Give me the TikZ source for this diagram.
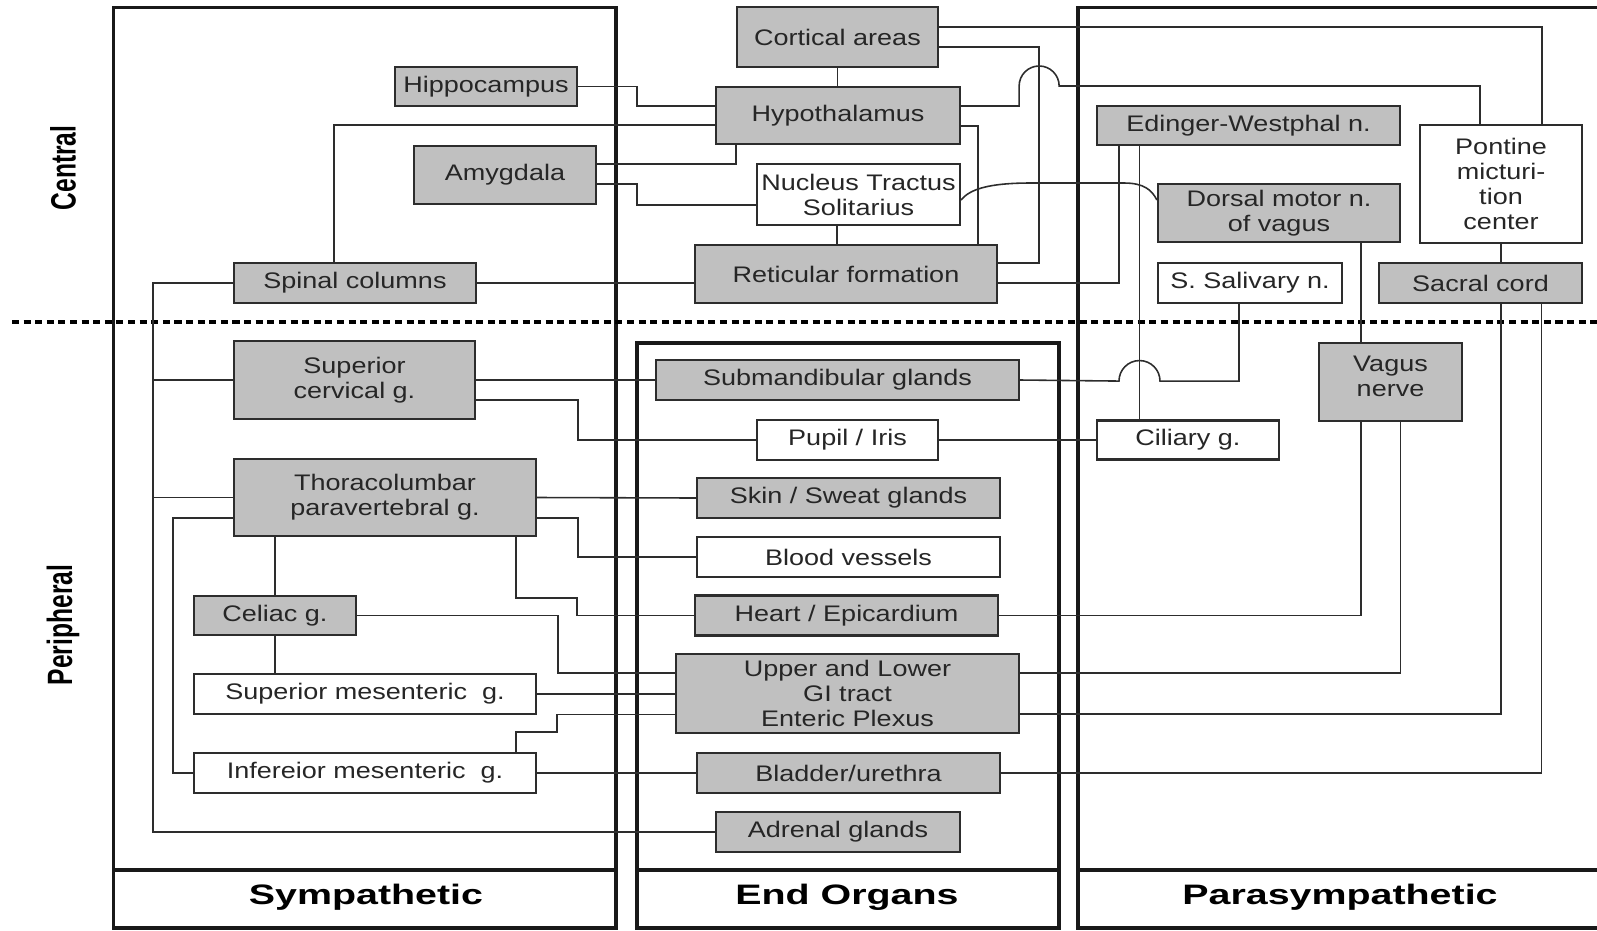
\documentclass[tikz,border=0pt]{standalone}
\usepackage{fontspec}
\usepackage{xcolor}
\usepackage{tikz}
\newfontfamily\boxfont{Liberation Sans}[FakeStretch=1.2]
\newfontfamily\bandfont{Liberation Sans}[FakeStretch=1.4]
\newfontfamily\sidefont{Liberation Sans}[FakeStretch=0.7]
\definecolor{boxgray}{RGB}{192,192,192}
\definecolor{inkgray}{RGB}{45,45,45}

\begin{document}
\begin{tikzpicture}[x=0.01cm, y=-0.01cm,
	gbox/.style={draw=inkgray, line width=0.6pt, fill=boxgray, inner sep=0pt, align=center, text=black!85, font=\boxfont\fontsize{6.4}{7.1}\selectfont},
	wbox/.style={gbox, fill=white},
	link/.style={draw=inkgray, line width=0.45pt},
	frame/.style={draw=black!90, line width=0.9pt},
	band/.style={font=\bandfont\bfseries\fontsize{8}{9}\selectfont},
	side/.style={rotate=90, font=\sidefont\bfseries\fontsize{10}{11}\selectfont}]
			\useasboundingbox (0,0) rectangle (1597,930);
			\draw [frame] (113.6,7.3) rectangle (616,928);
			\draw [frame] (113.6,870) -- (616,870);
			\draw [frame] (637,343) rectangle (1059,928);
			\draw [frame] (637,870) -- (1059,870);
			\draw [frame] (1600,7.3) -- (1078,7.3) -- (1078,928) -- (1600,928);
			\draw [frame] (1078,870) -- (1600,870);
			\draw [line width=1.2pt, dash pattern=on 2pt off 1.3pt] (12,322) -- (1597,322);
			\node[side] (central) at (63,168) {Central};
			\node[side] (peripheral) at (63,625) {Peripheral};
			\node[band] (symlab) at (366,897) {Sympathetic};
			\node[band] (endlab) at (847,897) {End Organs};
			\node[band] (paralab) at (1340,897) {Parasympathetic};
			\node[gbox, minimum width=2.01cm, minimum height=0.60cm] (cortex) at (837.5,37) {Cortical areas};
			\node[gbox, minimum width=1.82cm, minimum height=0.39cm] (hippo) at (486,86.5) {Hippocampus};
			\node[gbox, minimum width=2.44cm, minimum height=0.57cm] (hypo) at (838,115.5) {Hypothalamus};
			\node[gbox, minimum width=1.82cm, minimum height=0.58cm] (amyg) at (505,175) {Amygdala};
			\node[wbox, minimum width=2.03cm, minimum height=0.61cm] (nts) at (858.5,194.5) {Nucleus Tractus\\Solitarius};
			\node[gbox, minimum width=2.42cm, minimum height=0.40cm] (spine) at (355,283) {Spinal columns};
			\node[gbox, minimum width=3.02cm, minimum height=0.58cm] (retic) at (846,274) {Reticular formation};
			\node[gbox, minimum width=3.03cm, minimum height=0.39cm] (ew) at (1248.5,125.5) {Edinger-Westphal n.};
			\node[wbox, minimum width=1.62cm, minimum height=1.18cm] (pmc) at (1501,184) {Pontine\\micturi-\\tion\\center};
			\node[gbox, minimum width=2.42cm, minimum height=0.58cm] (dmv) at (1279,213) {Dorsal motor n.\\of vagus};
			\node[wbox, minimum width=1.84cm, minimum height=0.40cm] (ssal) at (1250,283) {S. Salivary n.};
			\node[gbox, minimum width=2.03cm, minimum height=0.40cm] (sacral) at (1480.5,283) {Sacral cord};
			\node[gbox, minimum width=2.41cm, minimum height=0.78cm] (supcerv) at (354.5,380) {Superior\\cervical g.};
			\node[gbox, minimum width=3.02cm, minimum height=0.77cm] (thor) at (385,497.5) {Thoracolumbar\\paravertebral g.};
			\node[gbox, minimum width=1.62cm, minimum height=0.39cm] (celiac) at (275,615.5) {Celiac g.};
			\node[wbox, minimum width=3.42cm, minimum height=0.40cm] (supmes) at (365,694) {Superior mesenteric\ \ g.};
			\node[wbox, minimum width=3.42cm, minimum height=0.40cm] (infmes) at (365,773) {Infereior mesenteric\ \ g.};
			\node[gbox, minimum width=3.63cm, minimum height=0.40cm] (subm) at (837.5,380) {Submandibular glands};
			\node[wbox, minimum width=1.81cm, minimum height=0.40cm] (pupil) at (847.5,440) {Pupil / Iris};
			\node[gbox, minimum width=3.03cm, minimum height=0.40cm] (skin) at (848.5,498) {Skin / Sweat glands};
			\node[wbox, minimum width=3.03cm, minimum height=0.40cm] (blood) at (848.5,557) {Blood vessels};
			\node[gbox, minimum width=3.03cm, minimum height=0.40cm] (heart) at (846.5,615.5) {Heart / Epicardium};
			\node[gbox, minimum width=3.43cm, minimum height=0.79cm] (gi) at (847.5,693.5) {Upper and Lower\\GI tract\\Enteric Plexus};
			\node[gbox, minimum width=3.03cm, minimum height=0.40cm] (bladder) at (848.5,773) {Bladder/urethra};
			\node[gbox, minimum width=2.44cm, minimum height=0.40cm] (adrenal) at (838,832) {Adrenal glands};
			\node[wbox, minimum width=1.82cm, minimum height=0.39cm] (ciliary) at (1188,440) {Ciliary g.};
			\node[gbox, minimum width=1.43cm, minimum height=0.78cm] (vagus) at (1390.5,382) {Vagus\\nerve\\[-3.7pt]};
			\draw [link] (cortex.south) -- (cortex.south |- hypo.north);
			\draw [link] (hippo.east) -- ++(59,0) |- ([shift={(0,-9.5)}]hypo.west);
			\draw [link] ([shift={(0,9.5)}]hypo.west) -| ([shift={(-21,0)}]spine.north);
			\draw [link] ([shift={(0,-11)}]amyg.east) -| ([shift={(-102,0)}]hypo.south);
			\draw [link] ([shift={(0,9)}]amyg.east) -- ++(40,0) |- ([shift={(0,10.5)}]nts.west);
			\draw [link] ([shift={(-21.5,0)}]nts.south) -- ([shift={(-9,0)}]retic.north);
			\draw [link] ([shift={(0,10.5)}]hypo.east) -| ([shift={(132,0)}]retic.north);
			\draw [link] (spine.east) -- (spine.east -| retic.west);
			\draw [link] ([shift={(0,-10)}]cortex.east) -| ([shift={(41,0)}]pmc.north);
			\draw [link] ([shift={(0,10)}]cortex.east) -- ++(100,0) |- ([shift={(0,-11)}]retic.east);
			\draw [link] ([shift={(0,-9.5)}]hypo.east) -- ++(58,0) -- ++(0,-20) arc[start angle=180, end angle=0, radius=0.2cm] -| ([shift={(-21,0)}]pmc.north);
			\draw [link] ([shift={(0,5.5)}]nts.east) .. controls ([shift={(8,-4.5)}]nts.east) and ([shift={(25,-11.5)}]nts.east) .. ([shift={(70,-11.5)}]nts.east) -- ([shift={(-33,-30)}]dmv.west) .. controls ([shift={(-13,-30)}]dmv.west) and ([shift={(-5,-23)}]dmv.west) .. ([shift={(0,-13)}]dmv.west);
			\draw [link] ([shift={(0,9)}]retic.east) -| ([shift={(-129.5,0)}]ew.south);
			\draw [link] ([shift={(-109,0)}]ew.south) -- ([shift={(-48.5,0)}]ciliary.north);
			\draw [link] (pmc.south) -- ([shift={(20.5,0)}]sacral.north);
			\draw [link] ([shift={(82,0)}]dmv.south) -- ([shift={(-29.5,0)}]vagus.north);
			\draw [link] ([shift={(-11,0)}]ssal.south) -- ++(0,77) -- ++(-79,0) arc[start angle=0, end angle=180, radius=0.205cm] -- (subm.east);
			\draw [link] (spine.west) -- ++(-80,0) coordinate (bus) |- (adrenal.west);
			\draw [link] (bus |- supcerv.west) -- (supcerv.west);
			\draw [link] (bus |- thor.west) -- (thor.west);
			\draw [link] ([shift={(0,20.5)}]thor.west) -- ++(-60,0) |- (infmes.west);
			\draw [link] (supcerv.east) -- (subm.west);
			\draw [link] ([shift={(0,20)}]supcerv.east) -- ++(102,0) |- (pupil.west);
			\draw [link] (thor.east) -- (skin.west);
			\draw [link] ([shift={(0,20.5)}]thor.east) -- ++(41,0) |- (blood.west);
			\draw [link] ([shift={(131,0)}]thor.south) -- ++(0,61) -- ++(61,0) |- (heart.west);
			\draw [link] ([shift={(-110,0)}]thor.south) -- (celiac.north);
			\draw [link] (celiac.east) -- ++(201,0) |- ([shift={(0,-20.5)}]gi.west);
			\draw [link] (celiac.south) -- ([shift={(-90,0)}]supmes.north);
			\draw [link] (supmes.east) -- (supmes.east -| gi.west);
			\draw [link] ([shift={(151,0)}]infmes.north) -- ++(0,-20) -- ++(41,0) |- ([shift={(0,21)}]gi.west);
			\draw [link] (infmes.east) -- (bladder.west);
			\draw [link] (pupil.east) -- (ciliary.west);
			\draw [link] ([shift={(20.5,0)}]sacral.south) |- ([shift={(0,20.5)}]gi.east);
			\draw [link] ([shift={(61,0)}]sacral.south) |- (bladder.east);
			\draw [link] ([shift={(-29.5,0)}]vagus.south) |- (heart.east);
			\draw [link] ([shift={(10,0)}]vagus.south) |- ([shift={(0,-20.5)}]gi.east);
		\end{tikzpicture}
\end{document}
